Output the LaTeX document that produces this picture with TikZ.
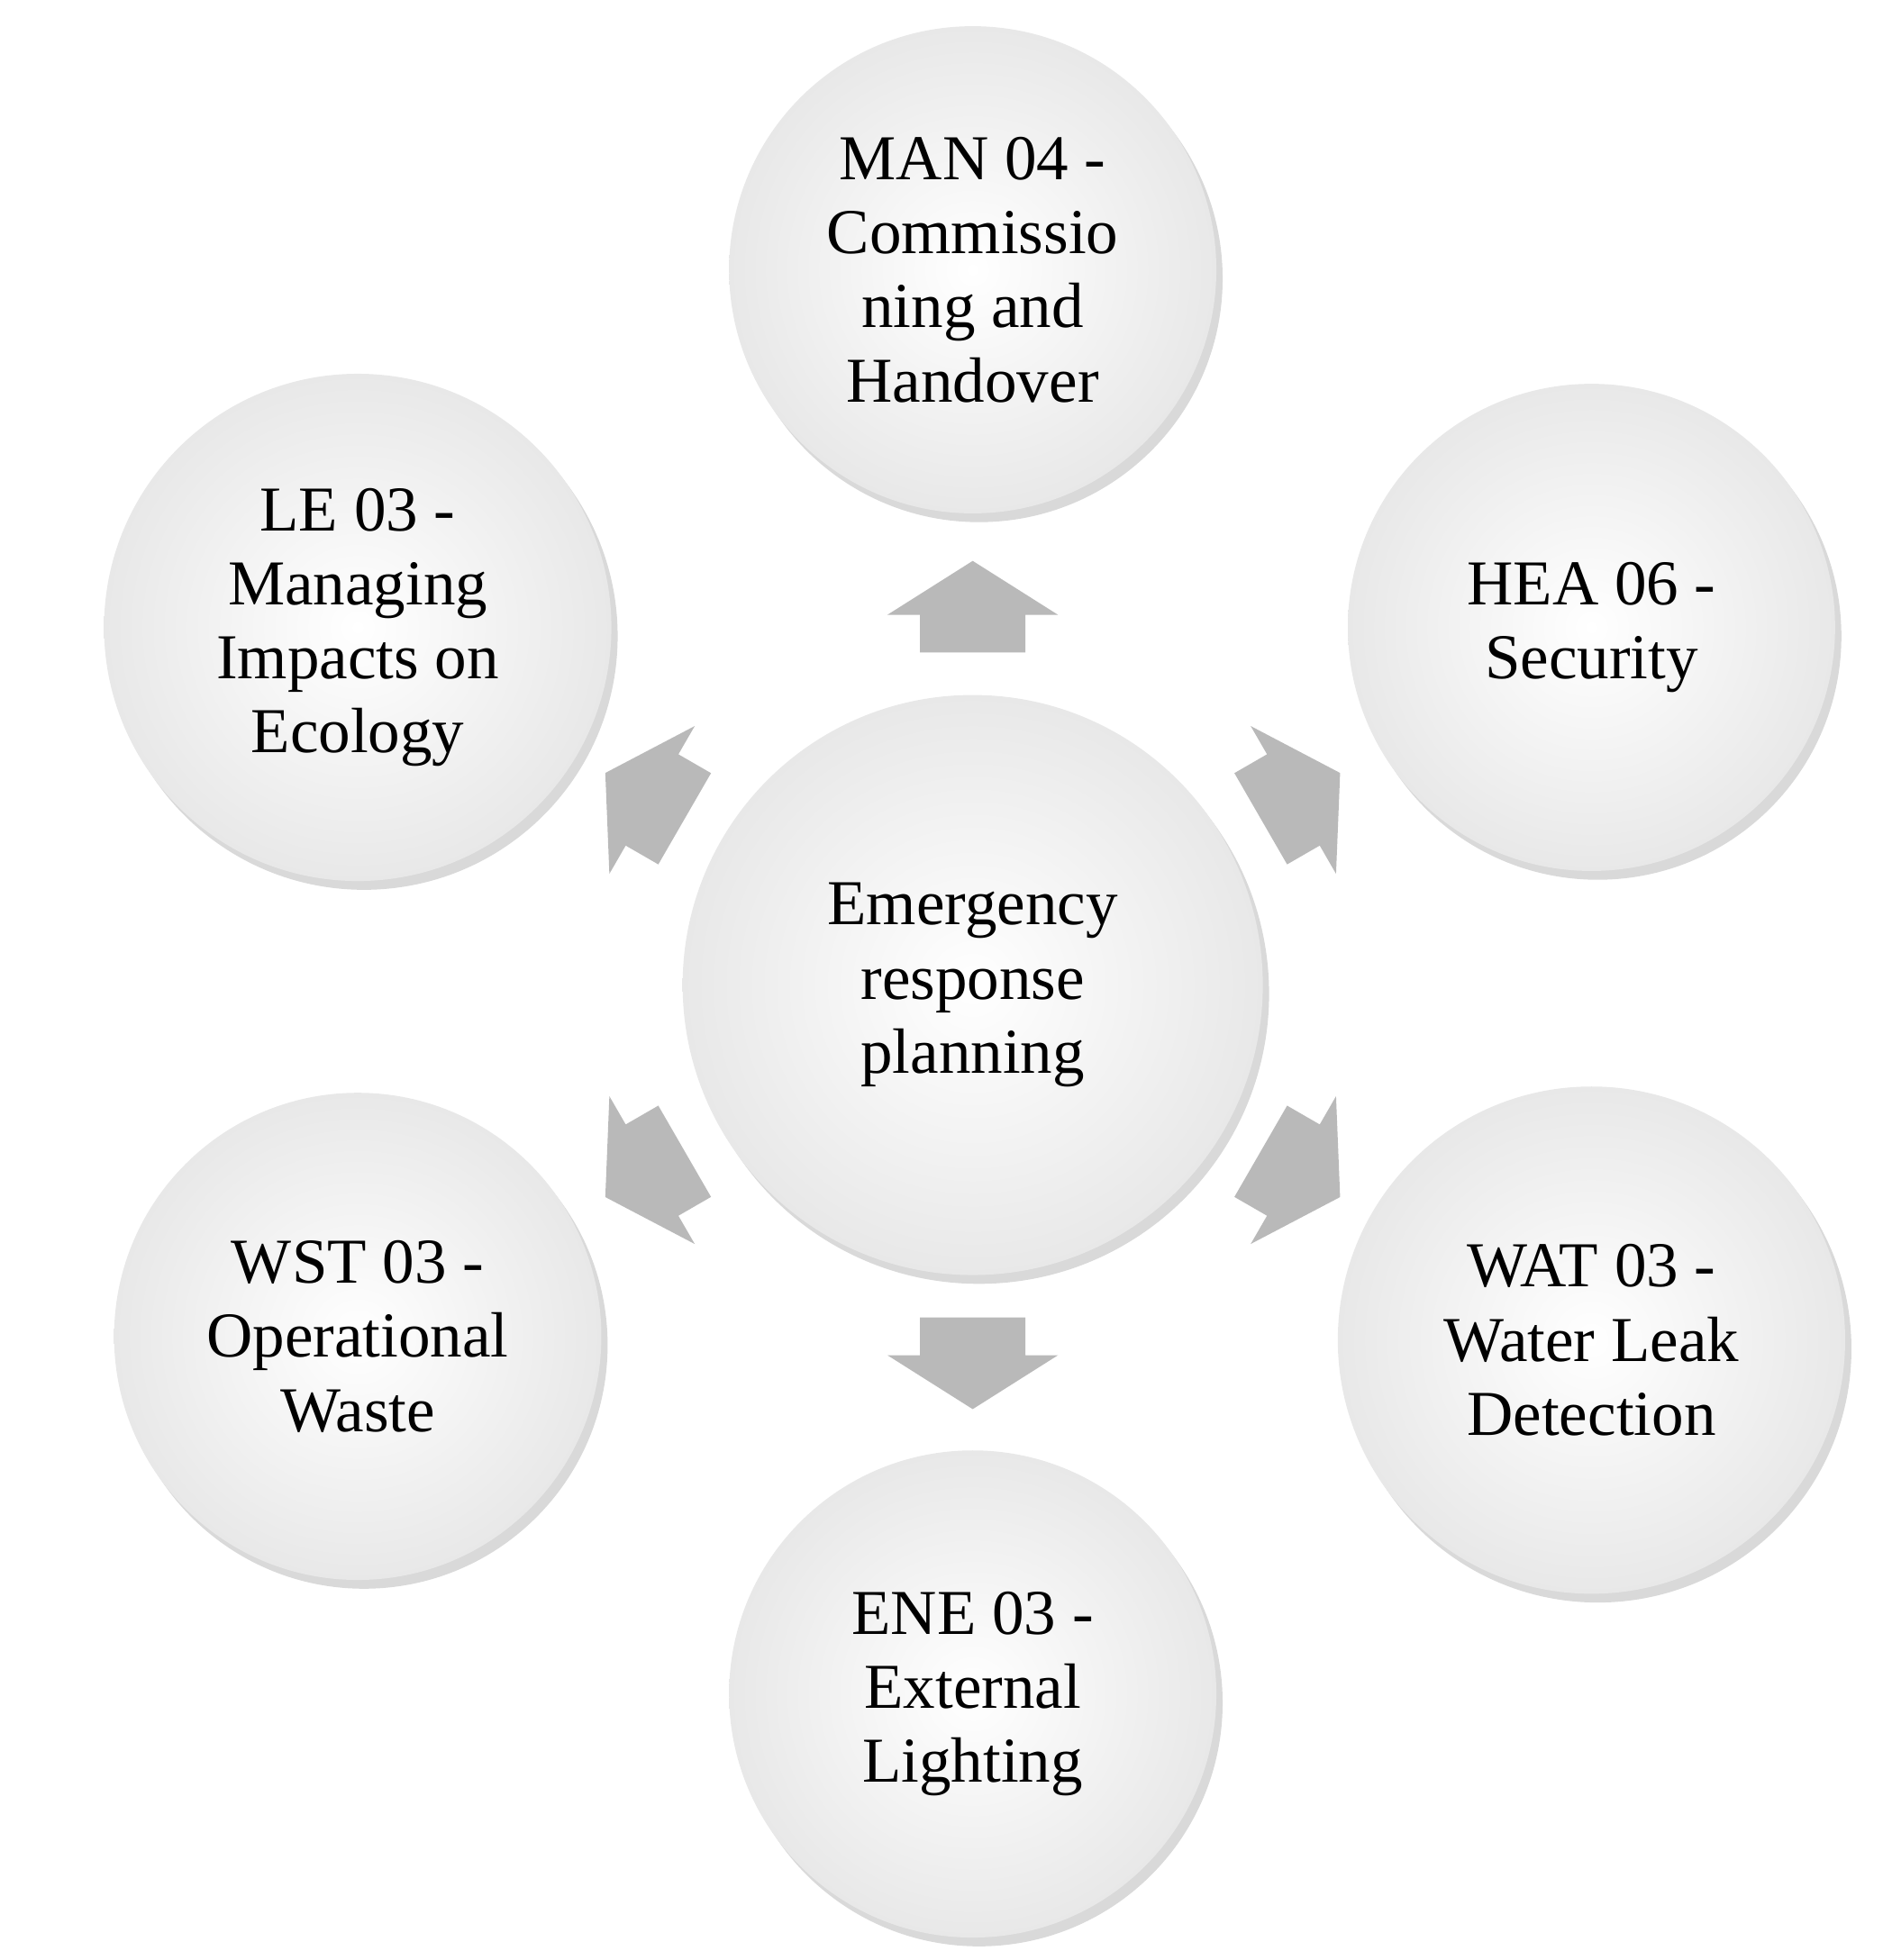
\documentclass[tikz,border=0pt]{standalone}
\usepackage{fontspec}
\setmainfont{Liberation Serif}
\usetikzlibrary{shadows}
\begin{document}
\begin{tikzpicture}[x=0.01cm,y=0.01cm,
  bub/.style={circle,shading=radial,inner color=white,outer color=gray!18,
    drop shadow={opacity=0.3,shadow xshift=0.05cm,shadow yshift=-0.07cm},
    align=center,font=\fontsize{14.5pt}{16.8pt}\selectfont,inner sep=0pt},
  arr/.style={fill=gray!55,draw=none}]
\useasboundingbox (0,0) rectangle (1500,1562);
\foreach \a in {90,30,-30,-90,210,150}{
  \begin{scope}[shift={(775,777)},rotate=\a]
    \fill[arr] (265,-42) -- (295,-42) -- (295,-68) -- (338,0) -- (295,68) -- (295,42) -- (265,42) -- cycle;
  \end{scope}}
\node[bub,minimum size=4.62cm] (c) at (775,777) {Emergency\\response\\planning};
\node[bub,minimum size=3.88cm] (man) at (775,1347) {MAN 04 -\\Commissio\\ning and\\Handover};
\node[bub,minimum size=3.88cm] (hea) at (1268,1062) {HEA 06 -\\Security};
\node[bub,minimum size=4.04cm] (le) at (285,1062) {LE 03 -\\Managing\\Impacts on\\Ecology};
\node[bub,minimum size=3.88cm] (wst) at (285,497) {WST 03 -\\Operational\\Waste};
\node[bub,minimum size=4.04cm] (wat) at (1268,494) {WAT 03 -\\Water Leak\\Detection};
\node[bub,minimum size=3.88cm] (ene) at (775,212) {ENE 03 -\\External\\Lighting};
\end{tikzpicture}
\end{document}
